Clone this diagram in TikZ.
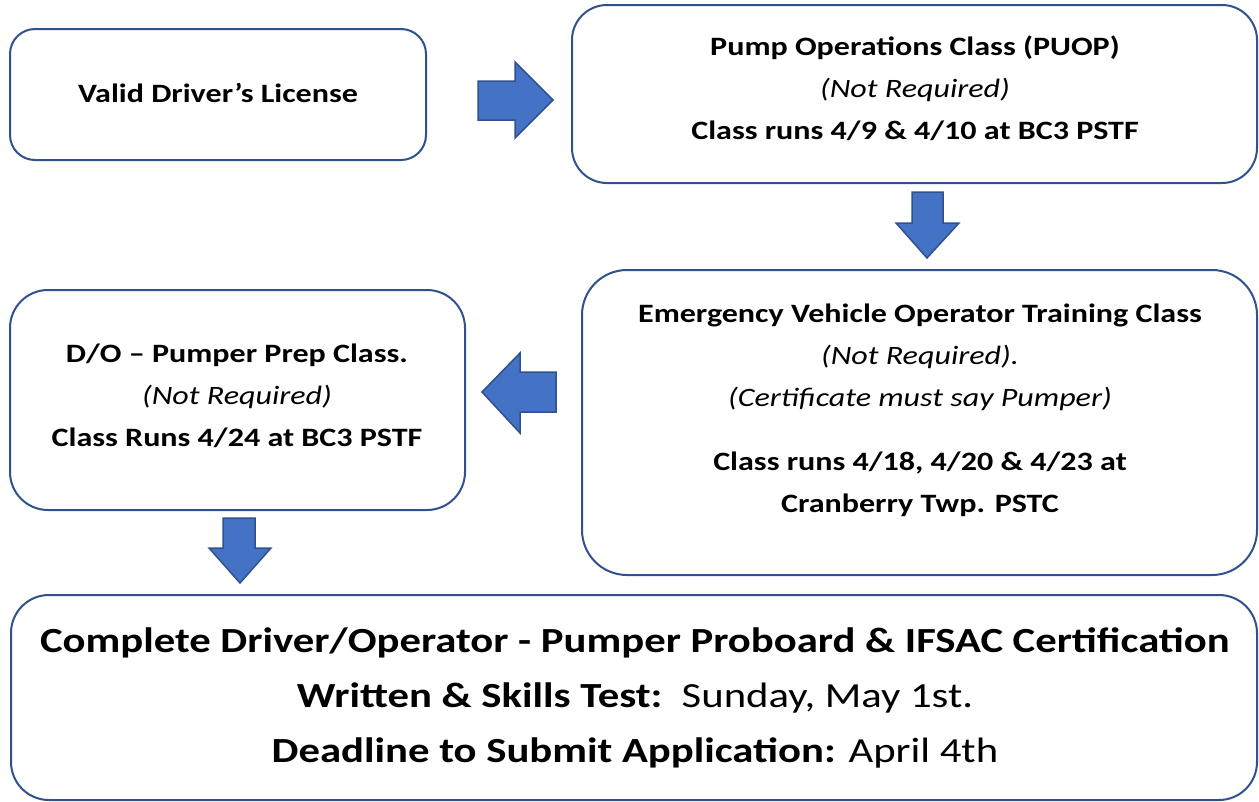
\documentclass[tikz,border=0pt]{standalone}
\usepackage{fontspec}
\setmainfont{Carlito}[FakeStretch=1.21]
\definecolor{boxblue}{HTML}{2F528F}
\definecolor{arrfill}{HTML}{4472C4}
\begin{document}
\begin{tikzpicture}[x=1pt,y=-1pt,
  rbox/.style={draw=boxblue,line width=2pt,fill=white},
  txt/.style={align=center,inner sep=0pt,font=\fontsize{26.5}{42}\selectfont},
  bigtxt/.style={align=center,inner sep=0pt,font=\fontsize{35.3}{55}\selectfont},
  blockarrow/.style={draw=boxblue,fill=arrfill,line width=1.5pt,line join=miter}]
\useasboundingbox (0,0) rectangle (1259,801);
% boxes
\draw[rbox,rounded corners=25pt] (10,29) rectangle (426,160);
\draw[rbox,rounded corners=35pt] (572,5) rectangle (1257,183);
\draw[rbox,rounded corners=45pt] (582,270) rectangle (1257,575);
\draw[rbox,rounded corners=38pt] (10,290) rectangle (465,510);
\draw[rbox,rounded corners=38pt] (11,595) rectangle (1257,800);
% texts
\node[txt] (license) at (218,93) {\bfseries Valid Driver’s License};
\node[txt] (puop) at (915,88) {\bfseries Pump Operations Class (PUOP)\\ \itshape (Not Required)\\ \bfseries Class runs 4/9 \& 4/10 at BC3 PSTF};
\node[txt] (evot) at (920,410) {\bfseries Emergency Vehicle Operator Training Class\\ \itshape (Not Required).\\ \itshape (Certificate must say Pumper)\\[22pt] \bfseries Class runs 4/18, 4/20 \& 4/23 at\\ \bfseries Cranberry Twp. PSTC};
\node[txt] (prep) at (237,396) {\bfseries D/O – Pumper Prep Class.\\ \itshape (Not Required)\\ \bfseries Class Runs 4/24 at BC3 PSTF};
\node[bigtxt] (cert) at (635,698) {\bfseries Complete Driver/Operator - Pumper Proboard \& IFSAC Certification\\ {\bfseries Written \& Skills Test:}\ \ Sunday, May 1st.\\ {\bfseries Deadline to Submit Application:} April 4th};
% block arrows
\draw[blockarrow] (478,81) -- (515,81) -- (515,62) -- (553,100) -- (515,138) -- (515,120) -- (478,120) -- cycle;
\draw[blockarrow] (912,192) -- (943,192) -- (943,223) -- (959,223) -- (927,258) -- (896,223) -- (912,223) -- cycle;
\draw[blockarrow] (556,372) -- (520,372) -- (520,353) -- (482,392) -- (520,433) -- (520,412) -- (556,412) -- cycle;
\draw[blockarrow] (223,518) -- (255,518) -- (255,548) -- (271,548) -- (240,583) -- (209,548) -- (223,548) -- cycle;
\end{tikzpicture}
\end{document}
